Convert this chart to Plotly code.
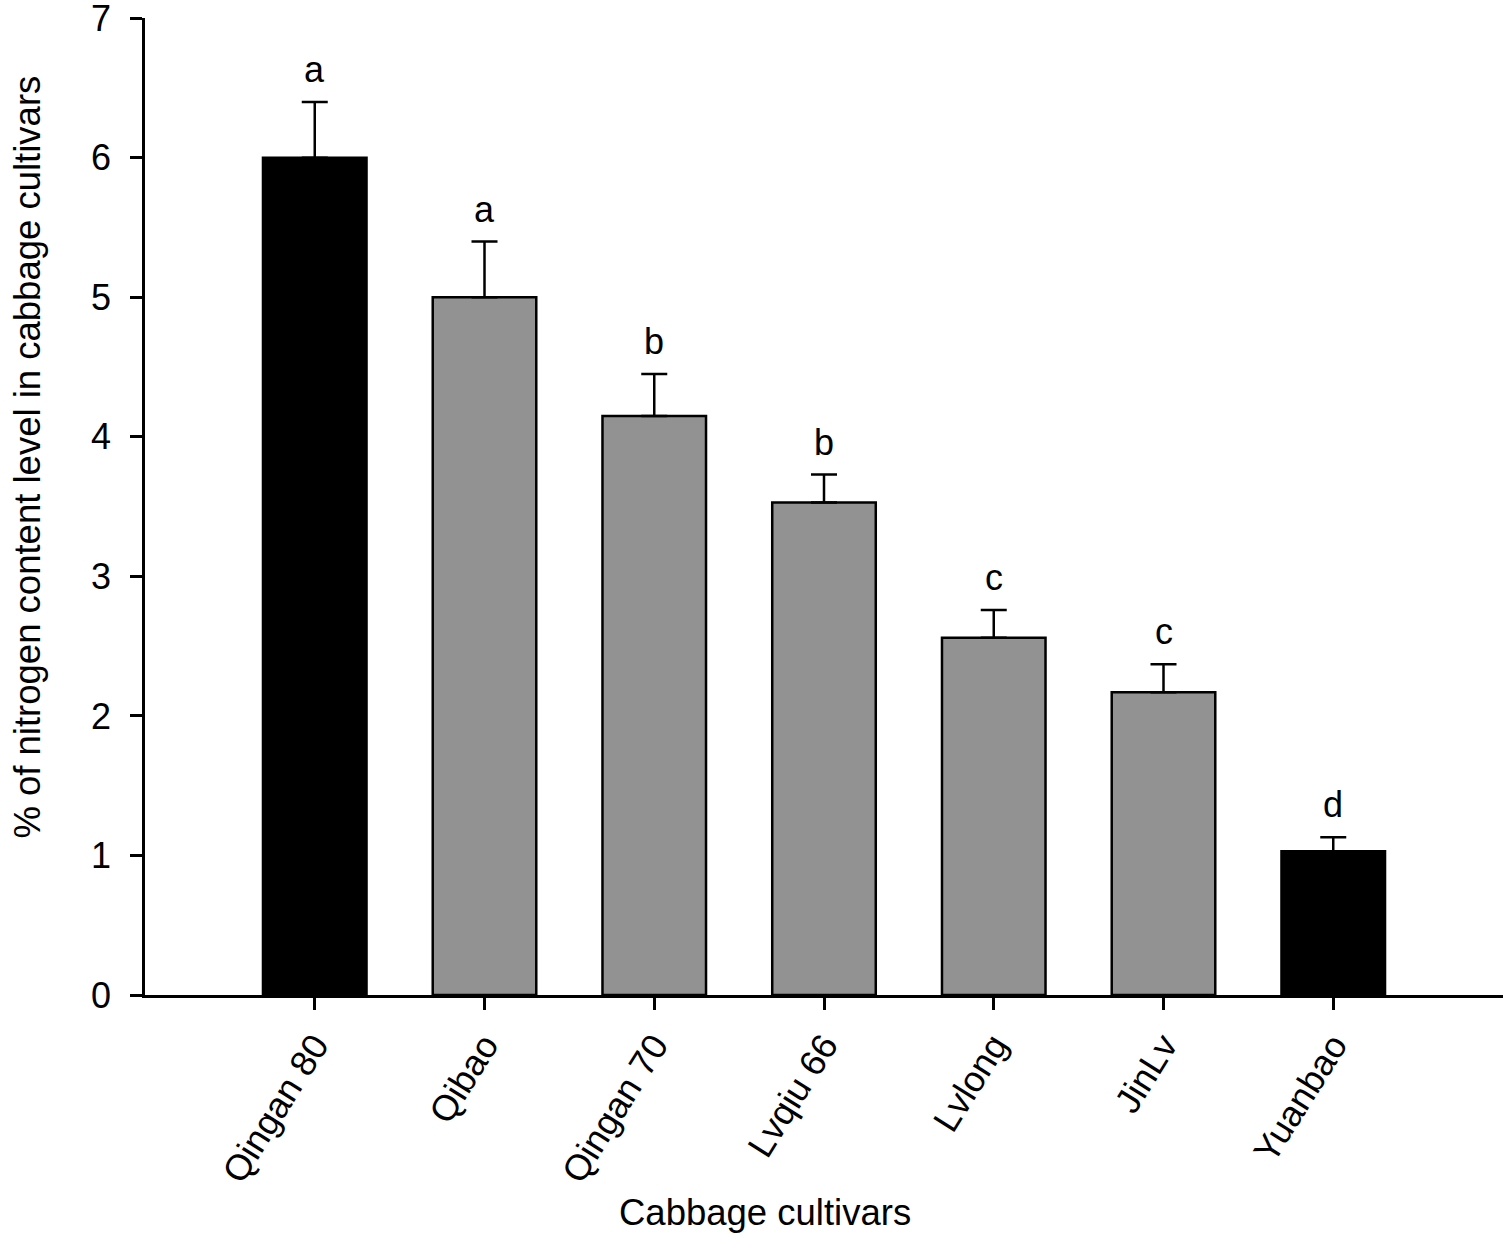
import plotly.graph_objects as go

cultivars = ["Qingan 80", "Qibao", "Qingan 70", "Lvqiu 66", "Lvlong", "JinLv", "Yuanbao"]
means = [6.00, 5.00, 4.15, 3.53, 2.56, 2.17, 1.03]
errors = [0.40, 0.40, 0.30, 0.20, 0.20, 0.20, 0.10]
letters = ["a", "a", "b", "b", "c", "c", "d"]
bar_colors = ["#000000", "#929292", "#929292", "#929292", "#929292", "#929292", "#000000"]

FONT = "Liberation Sans, Arial, sans-serif"

fig = go.Figure()
fig.add_trace(go.Bar(
    x=cultivars, y=means, width=0.61,
    marker=dict(color=bar_colors, line=dict(color="black", width=2.5)),
    error_y=dict(type="data", array=errors, arrayminus=[0] * len(errors),
                 symmetric=False, color="black", thickness=2.5, width=13),
    showlegend=False,
))

for c, m, e, l in zip(cultivars, means, errors, letters):
    fig.add_annotation(x=c, y=m + e, text=l, showarrow=False,
                       yanchor="bottom", yshift=10,
                       font=dict(family=FONT, size=36, color="black"))

fig.add_annotation(xref="paper", yref="paper", x=0.4566, y=-0.223,
                   text="Cabbage cultivars", showarrow=False,
                   xanchor="center", yanchor="middle",
                   font=dict(family=FONT, size=36.5, color="black"))
fig.add_annotation(xref="paper", yref="paper", x=-0.0862, y=0.551,
                   text="% of nitrogen content level in cabbage cultivars",
                   textangle=-90, showarrow=False,
                   xanchor="center", yanchor="middle",
                   font=dict(family=FONT, size=36.5, color="black"))

fig.update_layout(
    width=1508, height=1238,
    margin=dict(l=145, r=5, t=18, b=243),
    plot_bgcolor="white", paper_bgcolor="white",
    font=dict(family=FONT, size=36, color="black"),
    xaxis=dict(range=[-1, 7], showline=True, linecolor="black", linewidth=2.5,
               ticks="outside", ticklen=12, tickwidth=2.5, tickcolor="black",
               tickangle=-58, showgrid=False, zeroline=False, automargin=False,
               tickfont=dict(family=FONT, size=36)),
    yaxis=dict(range=[0, 7.002], showline=True, linecolor="black", linewidth=2.5,
               ticks="outside", ticklen=12, tickwidth=2.5, tickcolor="black",
               tickvals=[0, 1, 2, 3, 4, 5, 6, 7], showgrid=False, zeroline=False,
               ticklabelstandoff=12, ticklabeloverflow="allow", automargin=False,
               tickfont=dict(family=FONT, size=36)),
)

fig.write_html("out.html", config={"displayModeBar": False},
               post_script="document.body.style.margin='0px';")
